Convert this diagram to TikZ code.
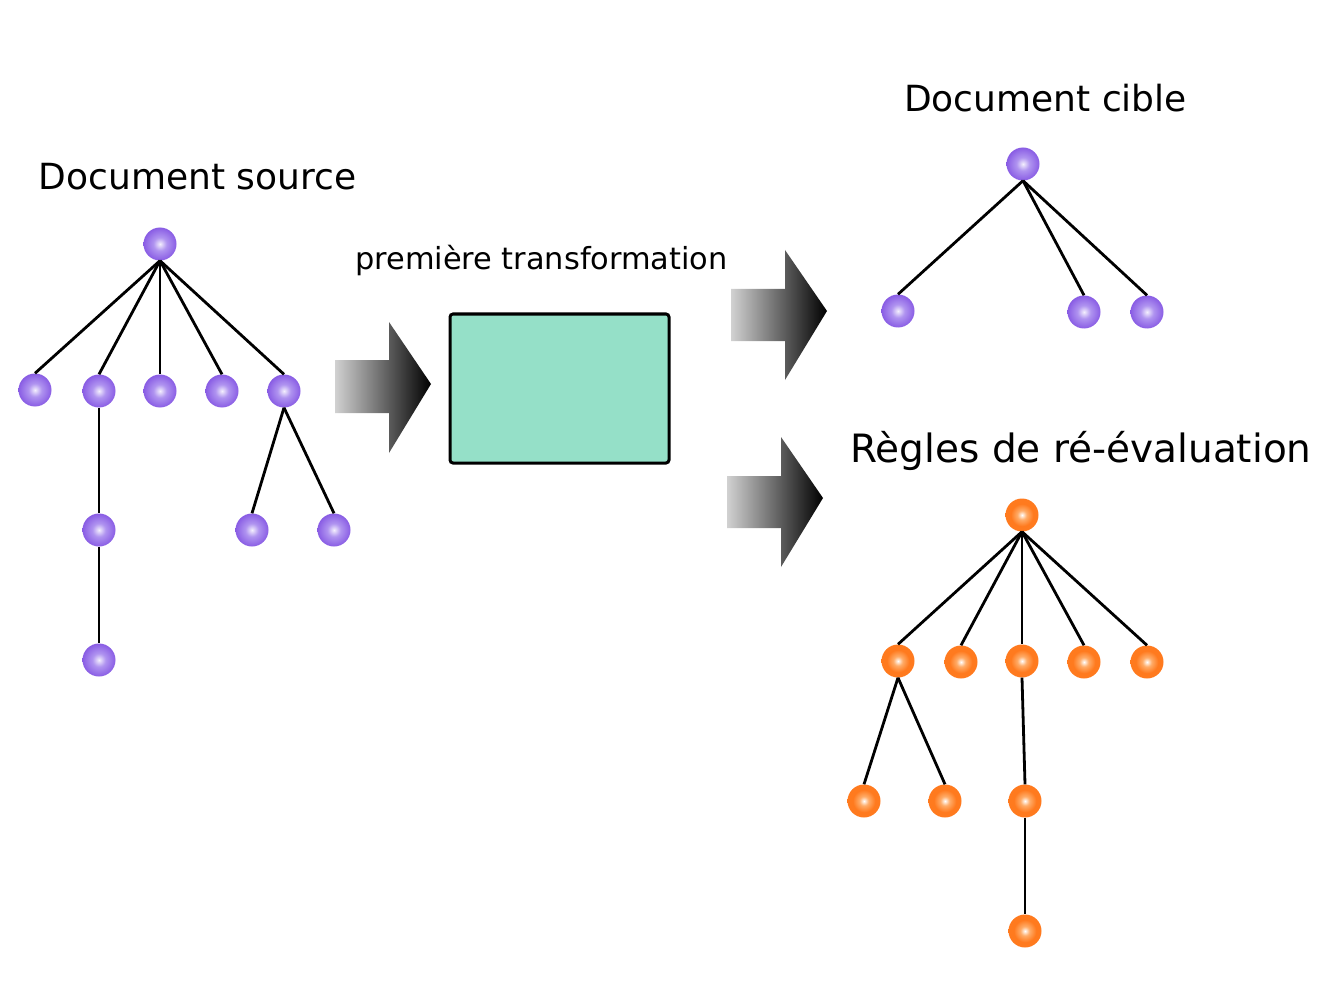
\documentclass[tikz,border=0pt]{standalone}
\usepackage{fontspec}
\setmainfont{DejaVu Sans}
\definecolor{purp}{RGB}{124,74,224}
\definecolor{purpdark}{RGB}{108,56,212}
\definecolor{purpmid}{RGB}{176,148,240}
\definecolor{orng}{RGB}{255,122,30}
\definecolor{orngmid}{RGB}{255,172,104}
\definecolor{boxfill}{RGB}{149,224,200}
\pgfdeclareradialshading{purpball}{\pgfpoint{0bp}{0bp}}{color(0bp)=(white!85!purpmid); color(10bp)=(purpmid); color(30bp)=(purp); color(50bp)=(purpdark); color(100bp)=(purpdark)}
\pgfdeclareradialshading{orngball}{\pgfpoint{0bp}{0bp}}{color(0bp)=(white); color(7bp)=(orngmid); color(17bp)=(orng); color(44bp)=(orng); color(50bp)=(orng!85!white); color(100bp)=(orng!85!white)}
\tikzset{
  pnode/.style={circle, minimum size=33pt, inner sep=0pt, shading=purpball},
  onode/.style={circle, minimum size=33pt, inner sep=0pt, shading=orngball},
  edge/.style={line width=2.8pt, black},
  title/.style={font=\fontsize{36}{40}\selectfont, anchor=base},
  bigtitle/.style={font=\fontsize{39}{43}\selectfont, anchor=base},
  small/.style={font=\fontsize{30.4}{34}\selectfont, anchor=base},
  bigarrow/.style={left color=black!18, right color=black, draw=none},
}
\begin{document}
\begin{tikzpicture}[x=1pt,y=-1pt]
\useasboundingbox (0,0) rectangle (1333,1000);
% titles
\node[title] (tsrc) at (197.5,190) {Document source};
\node[title] (tcib) at (1045.5,112) {Document cible};
\node[bigtitle] (tregl) at (1081,462) {Règles de ré-évaluation};
\node[small] (ttrans) at (541.5,270) {première transformation};
% box
\node[draw, line width=3pt, fill=boxfill, rounded corners=3pt, minimum width=219pt, minimum height=149pt, inner sep=0pt] (box) at (559.5,388.5) {};
% arrows
\shade[bigarrow] (335,360) -- (389,360) -- (389,322) -- (431,384) -- (389,453) -- (389,413) -- (335,413) -- cycle;
\shade[bigarrow] (731,289) -- (785,289) -- (785,250) -- (827,311) -- (785,380) -- (785,341) -- (731,341) -- cycle;
\shade[bigarrow] (727,476) -- (781,476) -- (781,437) -- (823,498) -- (781,567) -- (781,528) -- (727,528) -- cycle;
% source tree
\node[pnode] (s0) at (160,244) {};
\node[pnode] (s1) at (35,390) {};
\node[pnode] (s2) at (99,391) {};
\node[pnode] (s3) at (160,391) {};
\node[pnode] (s4) at (222,391) {};
\node[pnode] (s5) at (284,391) {};
\node[pnode] (s6) at (99,530) {};
\node[pnode] (s7) at (99,660) {};
\node[pnode] (s8) at (252,530) {};
\node[pnode] (s9) at (334,530) {};
\foreach \a/\b in {s0/s1,s0/s2,s0/s3,s0/s4,s0/s5,s2/s6,s6/s7,s5/s8,s5/s9}
  \draw[edge] (\a.south) -- (\b.north);
% target tree
\node[pnode] (c0) at (1023,164) {};
\node[pnode] (c1) at (898,311) {};
\node[pnode] (c2) at (1084,312) {};
\node[pnode] (c3) at (1147,312) {};
\foreach \a/\b in {c0/c1,c0/c2,c0/c3}
  \draw[edge] (\a.south) -- (\b.north);
% rules tree
\node[onode] (r0) at (1022,515) {};
\node[onode] (r1) at (898,661) {};
\node[onode] (r2) at (961,662) {};
\node[onode] (r3) at (1022,661) {};
\node[onode] (r4) at (1084,662) {};
\node[onode] (r5) at (1147,662) {};
\node[onode] (r6) at (864,801) {};
\node[onode] (r7) at (945,801) {};
\node[onode] (r8) at (1025,801) {};
\node[onode] (r9) at (1025,931) {};
\foreach \a/\b in {r0/r1,r0/r2,r0/r3,r0/r4,r0/r5,r1/r6,r1/r7,r3/r8,r8/r9}
  \draw[edge] (\a.south) -- (\b.north);
\end{tikzpicture}
\end{document}
